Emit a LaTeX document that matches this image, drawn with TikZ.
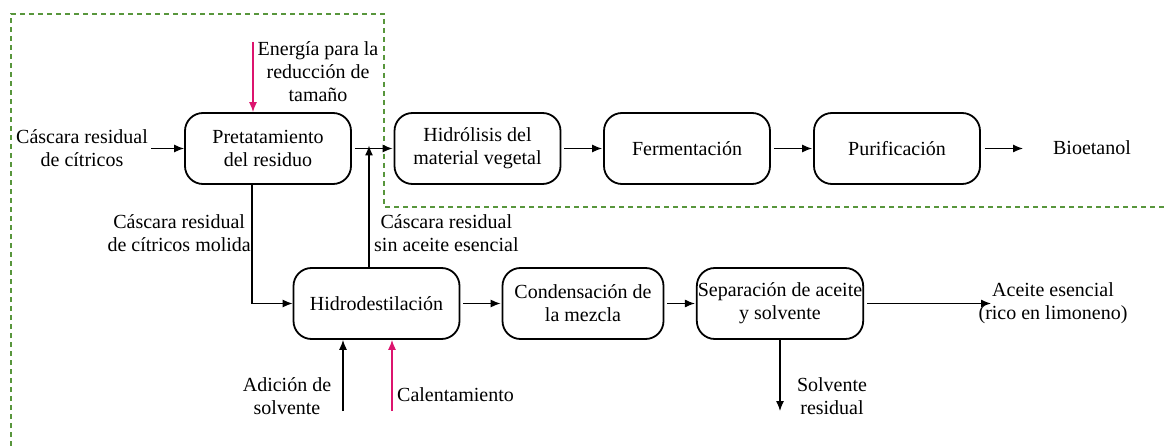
\documentclass[tikz,border=0pt]{standalone}
\usepackage{fontspec}
\setmainfont{Liberation Serif}
\usetikzlibrary{arrows.meta}
\definecolor{grn}{RGB}{88,150,60}
\definecolor{mag}{RGB}{220,20,110}
\begin{document}
\begin{tikzpicture}[x=1pt,y=-1pt,
  proc/.style={draw, line width=1.8pt, rounded corners=18pt, minimum width=166pt, minimum height=71pt, align=center, font=\fontsize{20}{23}\selectfont},
  lbl/.style={align=center, font=\fontsize{20}{23}\selectfont, inner sep=0pt},
  arr/.style={line width=1.2pt, -{Latex[length=10pt,width=8pt]}},
  marr/.style={arr, draw=mag, mag}]
\useasboundingbox (0,0) rectangle (1167,446);
\draw[grn, line width=1.5pt, dash pattern=on 5pt off 4pt] (11,446) -- (11,14) -- (384,14) -- (384,207) -- (1167,207);
% boxes
\node[proc] (pre) at (268,148.5) {Pretatamiento\\del residuo};
\node[proc] (hid) at (477.5,148.5) {Hidrólisis del\\material vegetal};
\node[proc] (fer) at (687,148.5) {Fermentación};
\node[proc] (pur) at (897,148.5) {Purificación};
\node[proc] (hdd) at (376.5,303.5) {Hidrodestilación};
\node[proc, minimum width=161pt] (con) at (583,303.5) {Condensación de\\la mezcla};
\node[proc, minimum width=154pt, inner sep=1pt] (sep) at (780,303.5) {Separación de aceite\\y solvente};
% texts
\node[lbl] (cin) at (82,148) {Cáscara residual\\de cítricos};
\node[lbl] (bio) at (1092,148) {Bioetanol};
\node[lbl] (ene) at (318,72) {Energía para la\\reducción de\\tamaño};
\node[lbl, anchor=east] (mol) at (251,233) {Cáscara residual\\de cítricos molida};
\node[lbl, anchor=west] (sin) at (374,233) {Cáscara residual\\sin aceite esencial};
\node[lbl] (ace) at (1053,303) {Aceite esencial\\(rico en limoneno)};
\node[lbl] (adi) at (287,396) {Adición de\\solvente};
\node[lbl, anchor=west] (cal) at (397,395) {Calentamiento};
\node[lbl] (res) at (832,396) {Solvente\\residual};
% coordinates
\coordinate (eneT) at (253,42);
\coordinate (adiB) at (343,411);
\coordinate (calB) at (392,411);
\coordinate (resB) at (780,411);
\coordinate (join) at (369,148.5);
% arrows
\draw[arr] (cin.east |- pre.west) ++(3,0) -- (pre.west);
\draw[arr] (pre.east) ++(3,0) -- ([xshift=-1pt]hid.west);
\draw[arr] (hid.east) ++(3,0) -- ([xshift=-1pt]fer.west);
\draw[arr] (fer.east) ++(3,0) -- ([xshift=-1pt]pur.west);
\draw[arr] (pur.east) ++(4,0) -- (1023,148.5);
\draw[marr] (eneT) -- (eneT |- pre.north);
\draw[arr] (pre.south -| 252,0) -- (252,303.5) -- (hdd.west);
\draw[arr] (hdd.north -| join) -- ([yshift=3pt]join);
\draw[arr] (hdd.east) ++(3,0) -- ([xshift=-1pt]con.west);
\draw[arr] (con.east) ++(3,0) -- ([xshift=-1pt]sep.west);
\draw[arr] (sep.east) ++(3,0) -- (991,303.5);
\draw[arr] (adiB) -- (adiB |- hdd.south);
\draw[marr] (calB) -- (calB |- hdd.south);
\draw[arr] (sep.south) -- (resB);
\end{tikzpicture}
\end{document}
